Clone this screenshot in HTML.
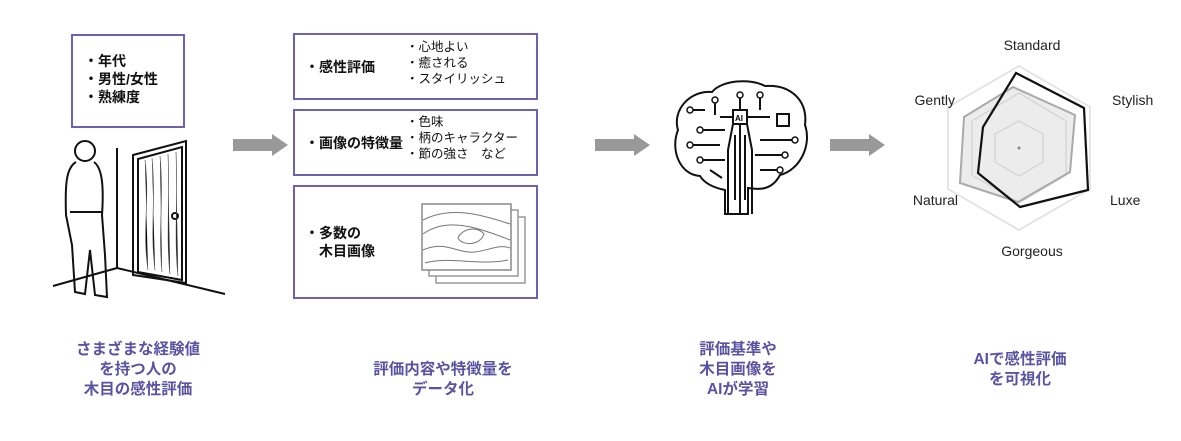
<!DOCTYPE html>
<html><head><meta charset="utf-8"><style>
body{margin:0;width:1181px;height:441px;background:#fff;position:relative;overflow:hidden;font-family:"Liberation Sans","Noto Sans CJK JP",sans-serif;color:#111}
.box{position:absolute;border:2px solid #6c62b4;box-sizing:border-box}
.t{position:absolute;white-space:nowrap}
.b{font-weight:bold;font-size:14px}
.s{font-size:12.5px;line-height:16px}
.cap{position:absolute;text-align:center;color:#5a53a3;font-weight:bold;font-size:15.5px;line-height:20px;width:200px}
</style></head><body>
<div class="box" style="left:71px;top:34px;width:114px;height:94px"></div>
<div class="t b" style="left:84px;top:52px;line-height:18px">・年代<br>・男性/女性<br>・熟練度</div>

<div class="box" style="left:293px;top:33px;width:245px;height:67px"></div>
<div class="t b" style="left:305px;top:57px">・感性評価</div>
<div class="t s" style="left:406px;top:39px">・心地よい<br>・癒される<br>・スタイリッシュ</div>
<div class="box" style="left:293px;top:109px;width:245px;height:67px"></div>
<div class="t b" style="left:305px;top:133px">・画像の特徴量</div>
<div class="t s" style="left:406px;top:114px">・色味<br>・柄のキャラクター<br>・節の強さ　など</div>
<div class="box" style="left:293px;top:185px;width:245px;height:114px"></div>
<div class="t b" style="left:305px;top:224px;line-height:18px">・多数の<br>　木目画像</div>

<svg width="1181" height="441" style="position:absolute;left:0;top:0">
<g fill="#999"><polygon points="233,139 272,139 272,134 288,145 272,156 272,151 233,151"/>
<polygon points="595,139 634,139 634,134 650,145 634,156 634,151 595,151"/>
<polygon points="830,139 869,139 869,134 885,145 869,156 869,151 830,151"/></g>
<g fill="#fff" stroke="#999" stroke-width="1.5"><rect x="436" y="217" width="89" height="66"/><rect x="429" y="210" width="89" height="66"/></g>
<rect x="422" y="204" width="89" height="66" fill="#fff" stroke="#888" stroke-width="1.5"/>
<g fill="none" stroke="#777" stroke-width="1"><path d="M423,220 C450,206 480,214 510,224"/><path d="M423,234 C440,222 458,224 475,228 C490,232 500,236 510,240"/><path d="M458,238 C462,228 478,226 484,234 C480,246 462,246 458,238Z"/><path d="M423,250 C445,240 458,254 475,252 C490,250 500,244 510,248"/><path d="M425,263 C450,256 480,266 508,260"/></g>
<g stroke="#111" fill="none" stroke-width="2">
<line x1="117" y1="148" x2="117" y2="268"/><line x1="53" y1="286" x2="117" y2="268"/><line x1="117" y1="268" x2="225" y2="294"/>
<polygon points="133,155 186,141 186,283 133,275"/><polygon points="138,159 182,147 182,280 138,272"/>
<circle cx="175" cy="216" r="3"/>
<circle cx="85" cy="151" r="10"/>
<path d="M76,162 C66,168 65,185 66,215 L72,245 L75,292 L85,294 L90,250 L95,295 L107,297 L105,255 L102,215 C104,185 102,168 94,162"/>
<line x1="70" y1="212" x2="103" y2="212"/>
</g>
<g stroke="#555" stroke-width="0.7">
<path d="M145,160 C150,200 142,230 148,270"/><path d="M152,158 C156,200 150,230 155,270"/><path d="M160,156 C164,200 158,230 162,272"/><path d="M168,154 C170,200 166,240 170,274"/><path d="M176,152 C178,200 174,240 178,276"/>
</g>
<g stroke="#111" stroke-width="2" fill="none">
<path d="M700,176 C680,175 670,150 678,130 C672,110 690,90 712,92 C722,80 750,78 765,86 C790,84 808,100 805,125 C812,145 800,170 780,175 C772,190 760,190 748,188 L748,214 L725,214 L725,190 C715,188 705,184 700,176 Z"/>
<rect x="733" y="110" width="14" height="14"/><rect x="777" y="114" width="12" height="12"/>
<path d="M740,124 L740,214 M733,124 L728,150 L728,214 M747,124 L752,150 L752,214 M740,110 L740,95 M720,117 L733,117 M747,117 L770,117 M700,130 L725,130 M690,145 L720,145 M760,140 L795,140 M755,155 L785,155 M700,160 L725,160 M760,170 L780,170 M715,100 L715,115 M760,95 L760,110 M705,110 L690,110 M710,170 L722,178 M735,135 L735,200 M745,135 L745,200"/>
</g>
<g fill="#fff" stroke="#111" stroke-width="1.5"><circle cx="715" cy="100" r="3"/><circle cx="760" cy="95" r="3"/><circle cx="690" cy="110" r="3"/><circle cx="700" cy="130" r="3"/><circle cx="690" cy="145" r="3"/><circle cx="795" cy="140" r="3"/><circle cx="785" cy="155" r="3"/><circle cx="700" cy="160" r="3"/><circle cx="780" cy="170" r="3"/><circle cx="740" cy="95" r="3"/></g>
<text x="735" y="121" font-size="8" font-weight="bold" font-family="Liberation Sans">AI</text>
<g fill="none" stroke="#ddd" stroke-width="1.5">
<polygon points="1019,66 1090,107 1090,189 1019,230 948,189 948,107"/>
<polygon points="1019,93 1066,121 1066,175 1019,203 972,175 972,121"/>
<polygon points="1019,121 1043,134 1043,162 1019,176 995,162 995,134"/>
</g>
<polygon points="1013,87 1075,115 1070,172 1018,202 960,183 964,117" fill="rgba(200,200,200,0.35)" stroke="#aaa" stroke-width="2"/>
<polygon points="1016,73 1084,108 1088,190 1020,207 978,173 983,127" fill="none" stroke="#111" stroke-width="2.2"/>
<circle cx="1019" cy="148" r="1.5" fill="#888"/>
<g font-family="Liberation Sans" font-size="14" fill="#222">
<text x="1032" y="50" text-anchor="middle">Standard</text>
<text x="1112" y="105">Stylish</text>
<text x="1110" y="205">Luxe</text>
<text x="1032" y="256" text-anchor="middle">Gorgeous</text>
<text x="958" y="205" text-anchor="end">Natural</text>
<text x="955" y="105" text-anchor="end">Gently</text>
</g>
</svg>

<div class="cap" style="left:38px;top:340px">さまざまな経験値<br>を持つ人の<br>木目の感性評価</div>
<div class="cap" style="left:343px;top:360px">評価内容や特徴量を<br>データ化</div>
<div class="cap" style="left:638px;top:340px">評価基準や<br>木目画像を<br>AIが学習</div>
<div class="cap" style="left:920px;top:350px">AIで感性評価<br>を可視化</div>
</body></html>
